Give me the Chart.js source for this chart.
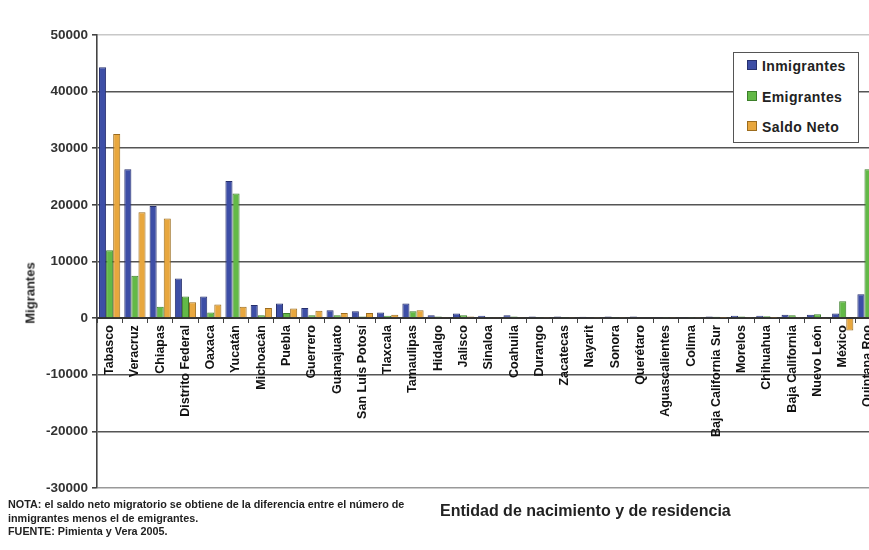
<!DOCTYPE html>
<html>
<head>
  <meta charset="utf-8">
  <title>Migrantes por entidad</title>
  <script src="https://cdn.jsdelivr.net/npm/chart.js@4.4.0/dist/chart.umd.min.js"></script>
  <style>
    body { margin: 0; width: 869px; height: 550px; overflow: hidden; background: #fff;
           font-family: "Liberation Sans", Arial, sans-serif; position: relative; }
    #chartBox { position: absolute; left: 0; top: 0; }
    #ytitle { position: absolute; left: 30px; top: 293px; transform: translate(-50%, -50%) rotate(-90deg);
              font-weight: bold; font-size: 13px; color: #222; white-space: nowrap; }
    #xtitle { position: absolute; left: 440px; top: 502px; font-weight: bold; font-size: 16px; color: #222; }
    #nota { position: absolute; left: 8px; top: 498px; font-size: 10.8px; line-height: 13.5px; color: #222; font-weight: bold; }
    #legend { position: absolute; left: 733px; top: 52px; width: 124px; height: 89px;
              border: 1.5px solid #555; background: #fff; }
    #legend div { position: absolute; left: 13px; font-weight: bold; font-size: 14px; letter-spacing: 0.4px; color: #222; white-space: nowrap; }
    #legend span { display: inline-block; width: 8px; height: 8px; margin-right: 5px; vertical-align: 1px; }
  </style>
</head>
<body>
  <div id="chartBox"><canvas id="myChart" width="886" height="550"></canvas></div>
  <div id="ytitle">Migrantes</div>
  <div id="xtitle">Entidad de nacimiento y de residencia</div>
  <div id="nota">NOTA: el saldo neto migratorio se obtiene de la diferencia entre el número de<br>inmigrantes menos el de emigrantes.<br>FUENTE: Pimienta y Vera 2005.</div>
  <div id="legend"></div>

  <script>
    var entidades = ['Tabasco', 'Veracruz', 'Chiapas', 'Distrito Federal', 'Oaxaca', 'Yucatán',
      'Michoacán', 'Puebla', 'Guerrero', 'Guanajuato', 'San Luis Potosí', 'Tlaxcala', 'Tamaulipas',
      'Hidalgo', 'Jalisco', 'Sinaloa', 'Coahuila', 'Durango', 'Zacatecas', 'Nayarit', 'Sonora',
      'Querétaro', 'Aguascalientes', 'Colima', 'Baja California Sur', 'Morelos', 'Chihuahua',
      'Baja California', 'Nuevo León', 'México', 'Quintana Roo'];

    var inmigrantes = [44300, 26300, 19800, 7000, 3800, 24200, 2300, 2600, 1800, 1400, 1200, 1000, 2600,
      500, 800, 400, 500, 300, 300, 250, 300, 300, 200, 200, 300, 400, 400, 600, 600, 800, 4200];
    var emigrantes = [12000, 7500, 2000, 3800, 1000, 22000, 500, 900, 500, 500, 300, 400, 1200,
      300, 500, 200, 300, 200, 200, 150, 200, 150, 100, 100, 250, 300, 350, 500, 700, 3000, 26300];
    var saldoNeto = [32500, 18700, 17600, 2800, 2400, 2000, 1800, 1700, 1300, 900, 900, 600, 1400,
      200, 300, 200, 200, 100, 100, 100, 100, 150, 100, 100, 50, 100, 50, 100, -100, -2200, -22100];

    var yTicks = [-30000, -20000, -10000, 0, 10000, 20000, 30000, 40000, 50000];

    var series = [
      { label: 'Inmigrantes', data: inmigrantes, fill: '#3d4ea6', edge: '#27306e' },
      { label: 'Emigrantes', data: emigrantes, fill: '#63b947', edge: '#3c7f2a' },
      { label: 'Saldo Neto', data: saldoNeto, fill: '#e8a73e', edge: '#9c6c1e' }
    ];

    var ctx = document.getElementById('myChart').getContext('2d');
    var chart = new Chart(ctx, {
      type: 'bar',
      data: {
        labels: entidades,
        datasets: series.map(function(s) {
          return {
            label: s.label,
            data: s.data,
            backgroundColor: s.fill,
            borderColor: s.edge,
            borderWidth: 1,
            categoryPercentage: 0.84,
            barPercentage: 1.0
          };
        })
      },
      options: {
        responsive: false,
        animation: false,
        layout: { padding: { top: 35, bottom: 62, left: 0, right: 0 } },
        plugins: { legend: { display: false }, tooltip: { enabled: false } },
        scales: {
          x: {
            position: { y: 0 },
            grid: { drawOnChartArea: false, drawTicks: true, tickLength: 4, offset: true, color: '#444' },
            border: { display: true, color: '#333', width: 2 },
            ticks: {
              autoSkip: false, minRotation: 90, maxRotation: 90, padding: 3,
              color: '#111', font: { family: 'Liberation Sans', size: 12.5, weight: 'bold' }
            }
          },
          y: {
            min: -30000, max: 50000,
            afterFit: function(scale) { scale.width = 97; },
            afterBuildTicks: function(scale) { scale.ticks = yTicks.map(function(v) { return { value: v }; }); },
            grid: {
              color: function(c) { return c.tick && c.tick.value === 50000 ? '#c8c8c8' : (c.tick && c.tick.value === -30000 ? '#999' : '#555'); },
              lineWidth: 1.6, tickLength: 5, tickColor: '#444'
            },
            border: { display: true, color: '#444', width: 1.6 },
            ticks: {
              padding: 4, color: '#333', font: { family: 'Liberation Sans', size: 13.5, weight: 'bold' },
              callback: function(v) { return String(v); }
            }
          }
        }
      }
    });

    // leyenda hecha a mano dentro del área del gráfico
    var legend = document.getElementById('legend');
    series.forEach(function(s, i) {
      var row = document.createElement('div');
      row.style.top = (5 + i * 30.5) + 'px';
      row.innerHTML = '<span style="background:' + s.fill + ';border:1px solid ' + s.edge + '"></span>' + s.label;
      legend.appendChild(row);
    });
  </script>
</body>
</html>
